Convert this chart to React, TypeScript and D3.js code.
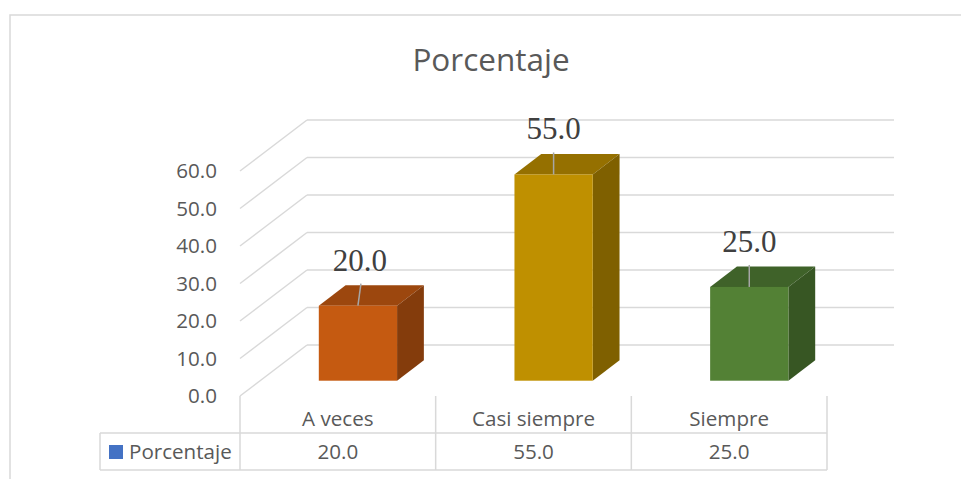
import React from "react";
import * as d3 from "d3";

const categories = ["A veces", "Casi siempre", "Siempre"];
const values = [20, 55, 25];
const yTicks = [0, 10, 20, 30, 40, 50, 60];
const seriesName = "Porcentaje";
const chartTitle = "Porcentaje";
const frontColors = ["#C55A11", "#BF9000", "#538135"];
const topColors = ["#9C470E", "#957000", "#3F6229"];
const sideColors = ["#843C0C", "#7F6000", "#375623"];

const W = 961;
const H = 479;
const DX = 67;
const DY = -51;
const GRID = "#d9d9d9";
const TXT = "#595959";
const SANS = "'Open Sans', 'Noto Sans', sans-serif";
const FS = 20.6;

export default function App() {
  const x = d3.scaleBand<string>().domain(categories).range([240, 827]).paddingInner(0).paddingOuter(0);
  const y = d3.scaleLinear().domain([0, 60]).range([396, 171]);
  const bw = x.bandwidth() * 0.4;
  const f0 = 0.3;
  const f1 = 0.7;
  const fx = f0 * DX, fy = f0 * DY;
  const bx = (f1 - f0) * DX, by = (f1 - f0) * DY;
  const tableTop = y(0);
  const row1 = 433;
  const row2 = 470;
  const legendLeft = 100;
  const xEnd = x.range()[1];

  return (
    <svg width={W} height={H} style={{ position: "absolute", left: 0, top: 0, background: "#fff" }}>
      <rect x={10} y={15} width={W + 20} height={H + 20} fill="#fff" stroke={GRID} strokeWidth={1.5} />
      <text x={491} y={71} textAnchor="middle" fontFamily={SANS} fontSize={31.5} fill={TXT}>{chartTitle}</text>

      {yTicks.map((t) => (
        <g key={t}>
          <line x1={240} y1={y(t)} x2={240 + DX} y2={y(t) + DY} stroke={GRID} strokeWidth={1.5} />
          <line x1={240 + DX} y1={y(t) + DY} x2={xEnd + DX} y2={y(t) + DY} stroke={GRID} strokeWidth={1.5} />
          <text x={217} y={y(t)} dy="0.36em" textAnchor="end" fontFamily={SANS} fontSize={FS} fill={TXT}>{t.toFixed(1)}</text>
        </g>
      ))}

      {categories.map((c, i) => {
        const cx = (x(c) as number) + x.bandwidth() / 2 + fx;
        const l = cx - bw / 2;
        const r = cx + bw / 2;
        const b = y(0) + fy;
        const t = y(values[i]) + fy;
        return (
          <g key={c}>
            <polygon points={`${l},${t} ${r},${t} ${r + bx},${t + by} ${l + bx},${t + by}`} fill={topColors[i]} />
            <polygon points={`${r},${t} ${r + bx},${t + by} ${r + bx},${b + by} ${r},${b}`} fill={sideColors[i]} />
            <rect x={l} y={t} width={bw} height={b - t} fill={frontColors[i]} />
            <line x1={cx} y1={t} x2={cx + (i === 0 ? 3 : 0)} y2={t - 22} stroke="#a6a6a6" strokeWidth={1.5} />
            <text x={cx + (i === 0 ? 2 : 0)} y={t - 35} textAnchor="middle" fontFamily="'Liberation Serif', 'Times New Roman', serif" fontSize={31} fill="#404040">{values[i].toFixed(1)}</text>
          </g>
        );
      })}

      {/* data table */}
      <line x1={legendLeft} y1={row1} x2={xEnd} y2={row1} stroke={GRID} strokeWidth={1.5} />
      <line x1={legendLeft} y1={row2} x2={xEnd} y2={row2} stroke={GRID} strokeWidth={1.5} />
      <line x1={legendLeft} y1={row1} x2={legendLeft} y2={row2} stroke={GRID} strokeWidth={1.5} />
      <line x1={240} y1={tableTop} x2={240} y2={row2} stroke={GRID} strokeWidth={1.5} />
      {categories.map((c) => (
        <line key={c} x1={(x(c) as number) + x.bandwidth()} y1={tableTop} x2={(x(c) as number) + x.bandwidth()} y2={row2} stroke={GRID} strokeWidth={1.5} />
      ))}
      {categories.map((c, i) => (
        <g key={c}>
          <text x={(x(c) as number) + x.bandwidth() / 2} y={426} textAnchor="middle" fontFamily={SANS} fontSize={FS} fill={TXT}>{c}</text>
          <text x={(x(c) as number) + x.bandwidth() / 2} y={459} textAnchor="middle" fontFamily={SANS} fontSize={FS} fill={TXT}>{values[i].toFixed(1)}</text>
        </g>
      ))}
      <rect x={109} y={445} width={14} height={14} fill="#4472C4" />
      <text x={129} y={459} fontFamily={SANS} fontSize={FS} fill={TXT}>{seriesName}</text>
    </svg>
  );
}
